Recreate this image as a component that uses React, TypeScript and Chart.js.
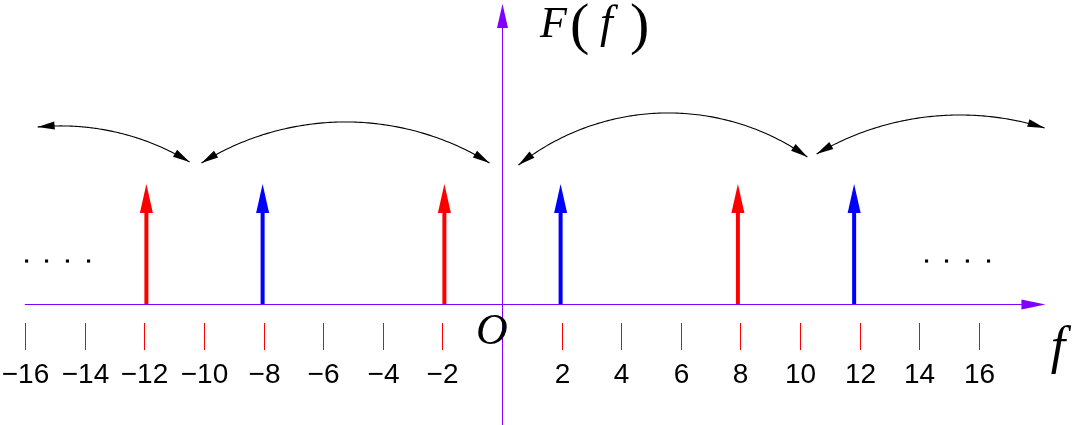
import { useEffect, useRef } from 'react';
import { Chart, registerables } from 'chart.js';

Chart.register(...registerables);

// ---- data ----
const X_TICKS = [-16, -14, -12, -10, -8, -6, -4, -2, 2, 4, 6, 8, 10, 12, 14, 16];
const RED_FREQS = [-11.95, -1.95, 7.9];
const RED_AMPS = [1, 1, 1];
const BLUE_FREQS = [-8.05, 1.95, 11.8];
const BLUE_AMPS = [1, 1, 1];
const DOTS_X = [-15.97, -15.3, -14.6, -13.89, 14.23, 14.9, 15.6, 16.31];
const DOTS_Y = [0.358, 0.358, 0.358, 0.358, 0.358, 0.358, 0.358, 0.358];
// curved double arrows: start, a point on the curve, end (data units)
const ARC_STARTS = [[-15.6, 1.475], [-10.1, 1.175], [0.537, 1.158], [10.54, 1.25]];
const ARC_MIDS = [[-12.85, 1.425], [-5.27, 1.517], [5.6, 1.592], [15.44, 1.575]];
const ARC_ENDS = [[-10.5, 1.183], [-0.436, 1.175], [10.23, 1.225], [18.19, 1.467]];

const X_MIN = -502.5 / 29.8;
const X_MAX = 570.5 / 29.8;
const Y_MIN = -121 / 120;
const Y_MAX = 304 / 120;
const AXIS_X_START = -16.03;
const AXIS_X_END = 18.22;
const AXIS_Y_END = 2.5;

const PURPLE = '#8000ff';

function arrowHead(ctx: CanvasRenderingContext2D, tx: number, ty: number, dx: number, dy: number, len: number, hw: number) {
  const n = Math.hypot(dx, dy) || 1;
  const ux = dx / n, uy = dy / n;
  const bx = tx - ux * len, by = ty - uy * len;
  const px = -uy, py = ux;
  ctx.beginPath();
  ctx.moveTo(tx, ty);
  ctx.lineTo(bx + px * hw, by + py * hw);
  ctx.lineTo(bx - px * hw, by - py * hw);
  ctx.closePath();
  ctx.fill();
}

function drawCurve(ctx: CanvasRenderingContext2D, p1: number[], p2: number[], p3: number[]) {
  const [x1, y1] = p1, [x2, y2] = p2, [x3, y3] = p3;
  const d = 2 * (x1 * (y2 - y3) + x2 * (y3 - y1) + x3 * (y1 - y2));
  const s1 = x1 * x1 + y1 * y1, s2 = x2 * x2 + y2 * y2, s3 = x3 * x3 + y3 * y3;
  const cx = (s1 * (y2 - y3) + s2 * (y3 - y1) + s3 * (y1 - y2)) / d;
  const cy = (s1 * (x3 - x2) + s2 * (x1 - x3) + s3 * (x2 - x1)) / d;
  const r = Math.hypot(x1 - cx, y1 - cy);
  const TAU = Math.PI * 2;
  const norm = (a: number) => ((a % TAU) + TAU) % TAU;
  const a1 = Math.atan2(y1 - cy, x1 - cx);
  const a2 = Math.atan2(y2 - cy, x2 - cx);
  const a3 = Math.atan2(y3 - cy, x3 - cx);
  const d13 = norm(a3 - a1), d12 = norm(a2 - a1);
  const span = d12 < d13 ? d13 : d13 - TAU;
  const N = 120;
  const pts: number[][] = [];
  for (let i = 0; i <= N; i++) {
    const a = a1 + (span * i) / N;
    pts.push([cx + r * Math.cos(a), cy + r * Math.sin(a)]);
  }
  ctx.beginPath();
  ctx.moveTo(pts[0][0], pts[0][1]);
  for (let i = 1; i <= N; i++) ctx.lineTo(pts[i][0], pts[i][1]);
  ctx.stroke();
  arrowHead(ctx, pts[N][0], pts[N][1], pts[N][0] - pts[N - 2][0], pts[N][1] - pts[N - 2][1], 17, 4);
  arrowHead(ctx, pts[0][0], pts[0][1], pts[0][0] - pts[2][0], pts[0][1] - pts[2][1], 17, 4);
}

const overlay = {
  id: 'overlay',
  beforeDatasetsDraw(chart: any) {
    const { ctx, scales } = chart;
    const x = scales.x, y = scales.y;
    const ax = Math.floor(x.getPixelForValue(0)) + 0.5;
    const ay = Math.floor(y.getPixelForValue(0)) + 0.5;
    ctx.save();
    ctx.strokeStyle = PURPLE;
    ctx.fillStyle = PURPLE;
    ctx.lineWidth = 1;
    // horizontal axis
    const hx0 = x.getPixelForValue(AXIS_X_START);
    const hx1 = x.getPixelForValue(AXIS_X_END);
    ctx.beginPath();
    ctx.moveTo(hx0, ay);
    ctx.lineTo(hx1 - 10, ay);
    ctx.stroke();
    arrowHead(ctx, hx1, ay, 1, 0, 24, 5);
    // vertical axis
    const vy1 = y.getPixelForValue(AXIS_Y_END);
    ctx.beginPath();
    ctx.moveTo(ax, chart.height);
    ctx.lineTo(ax, vy1 + 10);
    ctx.stroke();
    arrowHead(ctx, ax, vy1, 0, -1, 24, 5.5);
    // ticks and labels
    ctx.strokeStyle = '#ff0000';
    ctx.fillStyle = '#000';
    ctx.font = '28px "Liberation Sans", Arial, sans-serif';
    ctx.textAlign = 'center';
    ctx.textBaseline = 'alphabetic';
    const ayi = Math.floor(y.getPixelForValue(0));
    X_TICKS.forEach((t) => {
      const px = Math.floor(x.getPixelForValue(t)) + 0.5;
      ctx.beginPath();
      ctx.moveTo(px, ayi + 19);
      ctx.lineTo(px, ayi + 46);
      ctx.stroke();
      const lbl = t < 0 ? '\u2212' + Math.abs(t) : String(t);
      ctx.fillText(lbl, px, ayi + 79);
    });
    ctx.restore();
  },
  afterDatasetsDraw(chart: any) {
    const { ctx, scales } = chart;
    const x = scales.x, y = scales.y;
    ctx.save();
    const y0 = y.getPixelForValue(0);
    const spikes = (ds: any, color: string) => {
      ctx.fillStyle = color;
      ds.data.forEach((p: any) => {
        const px = x.getPixelForValue(p.x);
        const tip = y.getPixelForValue(p.y);
        const base = tip + 29;
        ctx.fillRect(px - 2, base - 1, 4, y0 - base + 1);
        arrowHead(ctx, px, tip, 0, -1, 29, 6.5);
      });
    };
    spikes(chart.data.datasets[0], '#ff0000');
    spikes(chart.data.datasets[1], '#0000ff');

    // curved arrows
    ctx.strokeStyle = '#000';
    ctx.fillStyle = '#000';
    ctx.lineWidth = 1.1;
    for (let i = 0; i < ARC_STARTS.length; i++) {
      const p1 = [x.getPixelForValue(ARC_STARTS[i][0]), y.getPixelForValue(ARC_STARTS[i][1])];
      const p2 = [x.getPixelForValue(ARC_MIDS[i][0]), y.getPixelForValue(ARC_MIDS[i][1])];
      const p3 = [x.getPixelForValue(ARC_ENDS[i][0]), y.getPixelForValue(ARC_ENDS[i][1])];
      drawCurve(ctx, p1, p2, p3);
    }

    // texts
    ctx.fillStyle = '#000';
    ctx.textBaseline = 'alphabetic';
    ctx.textAlign = 'left';
    ctx.font = 'italic 44px "Liberation Serif", "Times New Roman", serif';
    ctx.fillText('F', 540, 37);
    ctx.font = 'italic 46px "Liberation Serif", "Times New Roman", serif';
    ctx.fillText('f', 600, 37);
    ctx.font = '58px "Liberation Serif", "Times New Roman", serif';
    ctx.fillText('(', 570, 43);
    ctx.fillText(')', 630, 43);
    ctx.textAlign = 'center';
    ctx.font = 'italic 44px "Liberation Serif", "Times New Roman", serif';
    ctx.fillText('O', 492, 344);
    ctx.font = 'italic 52px "Liberation Serif", "Times New Roman", serif';
    ctx.fillText('f', 1058, 363);
    ctx.restore();
  },
};

export default function App() {
  const ref = useRef<HTMLCanvasElement>(null);
  useEffect(() => {
    const chart = new Chart(ref.current as HTMLCanvasElement, {
      type: 'scatter',
      data: {
        datasets: [
          { label: 'red', data: RED_FREQS.map((f, i) => ({ x: f, y: RED_AMPS[i] })), pointRadius: 0, pointHoverRadius: 0, showLine: false },
          { label: 'blue', data: BLUE_FREQS.map((f, i) => ({ x: f, y: BLUE_AMPS[i] })), pointRadius: 0, pointHoverRadius: 0, showLine: false },
          {
            label: 'dots',
            data: DOTS_X.map((v, i) => ({ x: v, y: DOTS_Y[i] })),
            pointStyle: 'rect',
            pointRadius: 2.2,
            pointHoverRadius: 2.2,
            backgroundColor: '#000',
            borderWidth: 0,
            showLine: false,
          },
        ],
      },
      options: {
        responsive: false,
        devicePixelRatio: 1,
        animation: false,
        events: [],
        layout: { padding: 0, autoPadding: false },
        plugins: { legend: { display: false }, tooltip: { enabled: false } },
        scales: {
          x: { type: 'linear', min: X_MIN, max: X_MAX, display: false },
          y: { type: 'linear', min: Y_MIN, max: Y_MAX, display: false },
        },
      },
      plugins: [overlay],
    } as any);
    return () => chart.destroy();
  }, []);
  return (
    <div style={{ position: 'absolute', left: 0, top: 0, width: 1073, height: 425, background: '#fff' }}>
      <canvas ref={ref} width={1073} height={425} style={{ display: 'block', width: 1073, height: 425 }} />
    </div>
  );
}
